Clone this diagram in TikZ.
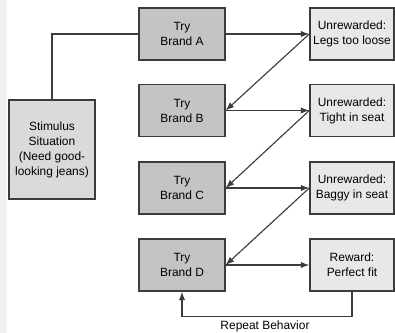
\documentclass[tikz,border=0pt]{standalone}
\usepackage{fontspec}
\setmainfont{Liberation Sans}
\usetikzlibrary{arrows.meta,calc}
\definecolor{LineClr}{RGB}{60,60,60}
\definecolor{BrandClr}{RGB}{196,196,196}
\definecolor{ResultClr}{RGB}{232,232,232}
\definecolor{StimClr}{RGB}{218,218,218}
\definecolor{EdgeClr}{RGB}{242,242,242}

\begin{document}
\begin{tikzpicture}[x=0.025cm,y=-0.025cm,
  box/.style={draw=LineClr,line width=1pt,align=center,inner sep=0pt,
    font=\fontsize{8.5}{10.7}\selectfont},
  brand/.style={box,fill=BrandClr,minimum width=2.15cm,minimum height=1.3cm},
  result/.style={box,fill=ResultClr,minimum width=2.1cm,minimum height=1.3cm},
  link/.style={line width=0.8pt,color=LineClr},
  arr/.style={link,-{Latex[length=6pt,width=4.5pt]}}]
\useasboundingbox (0,0) rectangle (395,333);
\fill[EdgeClr] (0,0) rectangle (7,333);

% left: the need
\node[box,fill=StimClr,minimum width=2.15cm,minimum height=2.475cm] (stim) at (52,149.5)
  {Stimulus\\Situation\\(Need good-\\looking jeans)};

% tries
\node[brand] (A) at (182,34) {Try\\Brand A};
\node[brand] (B) at (182,110.5) {Try\\Brand B};
\node[brand] (C) at (182,188) {Try\\Brand C};
\node[brand] (D) at (182,265) {Try\\Brand D};

% outcomes
\node[result] (rA) at (352,34) {Unrewarded:\\Legs too loose};
\node[result] (rB) at (352,110.5) {Unrewarded:\\Tight in seat};
\node[result] (rC) at (352,188) {Unrewarded:\\Baggy in seat};
\node[result] (rD) at (352,265) {Reward:\\Perfect fit};

\draw[link] (stim.north) |- (A.west);

\draw[arr] (A.east) -- (rA.west);
\draw[arr] (B.east) -- (rB.west);
\draw[arr] (C.east) -- (rC.west);
\draw[arr] (D.east) -- (rD.west);

\draw[arr] (rA.west) -- (B.east);
\draw[arr] (rB.west) -- (C.east);
\draw[arr] (rC.west) -- (D.east);

% repeat loop
\draw[arr] (rD.south) -- ++(0,25) coordinate (loop) -| (D.south);
\node[font=\fontsize{8.5}{10.7}\selectfont] (rep) at (265,326) {Repeat Behavior};

\end{tikzpicture}
\end{document}
